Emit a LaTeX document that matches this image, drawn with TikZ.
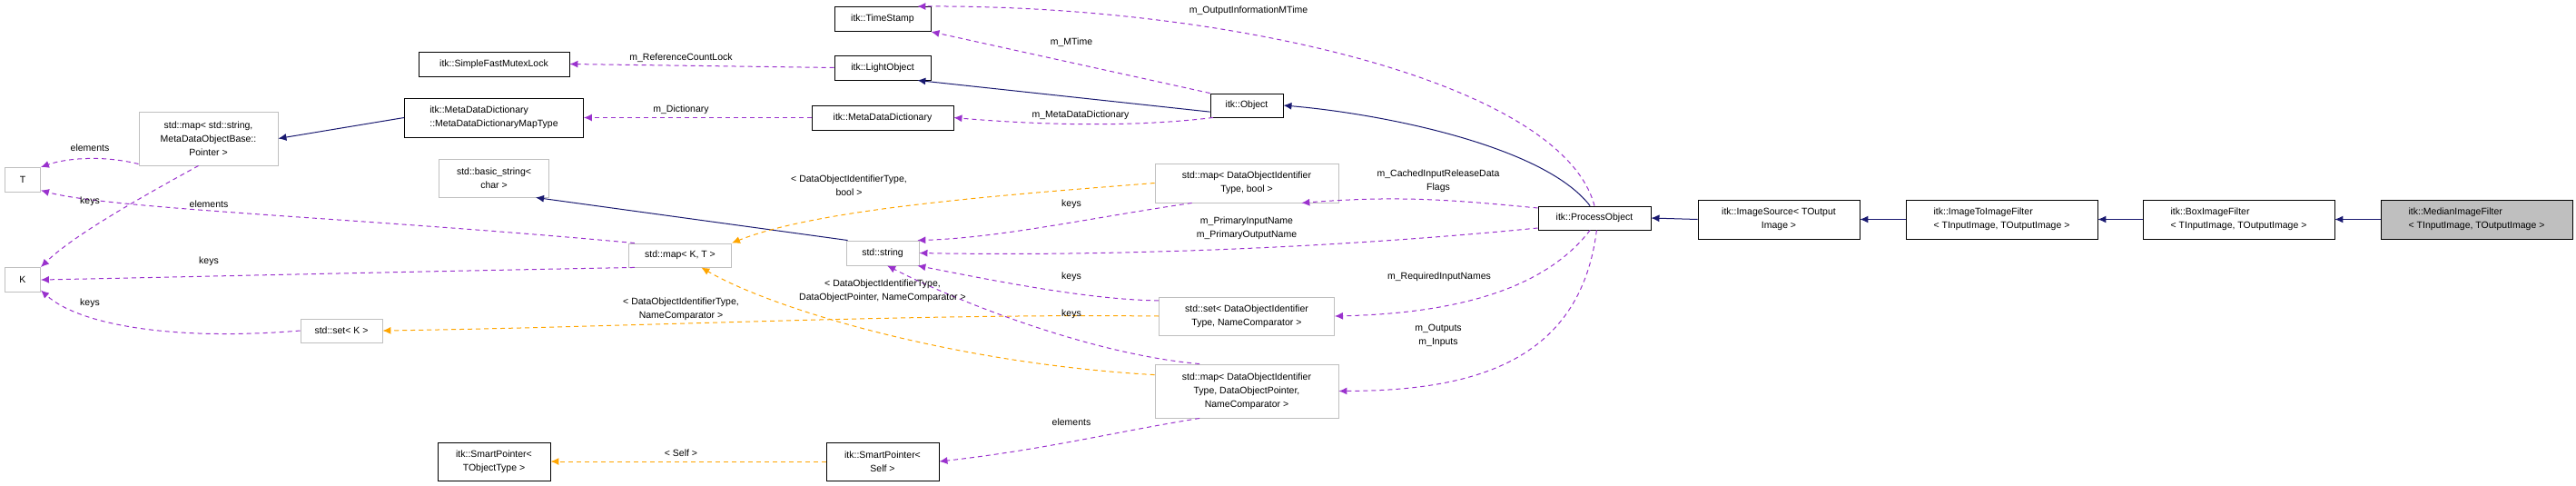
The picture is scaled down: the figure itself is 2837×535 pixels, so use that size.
\documentclass[tikz,border=0pt]{standalone}
\usepackage{fontspec}
\setmainfont{Liberation Sans}
\usetikzlibrary{arrows.meta}
\definecolor{inhcol}{HTML}{191970}
\definecolor{usecol}{HTML}{9A32CD}
\definecolor{tplcol}{HTML}{FFA500}
\definecolor{stdcol}{HTML}{BFBFBF}
\tikzset{
  cls/.style={draw=black,line width=0.9pt,fill=white,inner sep=0pt,align=center,font=\fontsize{10.5}{15}\selectfont},
  ext/.style={cls,draw=stdcol},
  lbl/.style={align=center,inner sep=0pt,font=\fontsize{10.5}{15}\selectfont},
  inh/.style={draw=inhcol,line width=1pt,-{Latex[length=9pt,width=8pt]}},
  use/.style={draw=usecol,line width=1pt,dashed,dash pattern=on 5pt off 4pt,-{Latex[length=9pt,width=8pt]}},
  tpl/.style={draw=tplcol,line width=1pt,dashed,dash pattern=on 5pt off 4pt,-{Latex[length=9pt,width=8pt]}}
}
\begin{document}
\begin{tikzpicture}[x=1pt,y=-1pt]
\useasboundingbox (0,0) rectangle (2837,535);

% classes
\node[cls,minimum width=166,minimum height=27] (mutexLock) at (544,70.5) {itk::SimpleFastMutexLock};
\node[cls,minimum width=197,minimum height=43,align=left] (mapType) at (544,129.5) {itk::MetaDataDictionary\\::MetaDataDictionaryMapType};
\node[ext,minimum width=153,minimum height=59] (stringMap) at (229.5,152.5) {std::map< std::string,\\MetaDataObjectBase::\\Pointer >};
\node[ext,minimum width=39,minimum height=27] (T) at (25,198) {T};
\node[ext,minimum width=39,minimum height=27] (K) at (25,308) {K};
\node[ext,minimum width=121,minimum height=42] (basicString) at (544,196) {std::basic\_string<\\char >};
\node[ext,minimum width=113,minimum height=26] (mapKT) at (749,281) {std::map< K, T >};
\node[ext,minimum width=90,minimum height=26] (setK) at (376,364) {std::set< K >};
\node[cls,minimum width=124,minimum height=42] (spTObj) at (544,508) {itk::SmartPointer<\\TObjectType >};
\node[cls,minimum width=106,minimum height=27] (timeStamp) at (972,21) {itk::TimeStamp};
\node[cls,minimum width=106,minimum height=27] (lightObject) at (972,74.5) {itk::LightObject};
\node[cls,minimum width=156,minimum height=27] (metaDict) at (972,129.5) {itk::MetaDataDictionary};
\node[cls,minimum width=80,minimum height=26] (object) at (1373,116) {itk::Object};
\node[ext,minimum width=202,minimum height=43] (mapBool) at (1373,201.5) {std::map< DataObjectIdentifier\\Type, bool >};
\node[ext,minimum width=80,minimum height=27] (stdString) at (972,278.5) {std::string};
\node[cls,minimum width=124,minimum height=26] (procObject) at (1756,240) {itk::ProcessObject};
\node[ext,minimum width=193,minimum height=42] (setDOI) at (1373,348) {std::set< DataObjectIdentifier\\Type, NameComparator >};
\node[ext,minimum width=202,minimum height=59] (mapDOP) at (1373,430.5) {std::map< DataObjectIdentifier\\Type, DataObjectPointer,\\NameComparator >};
\node[cls,minimum width=124,minimum height=42] (spSelf) at (972,508) {itk::SmartPointer<\\Self >};
\node[cls,minimum width=178,minimum height=43] (imgSource) at (1959,241.5) {itk::ImageSource< TOutput\\Image >};
\node[cls,minimum width=211,minimum height=43,align=left] (imgFilter) at (2204.5,241.5) {itk::ImageToImageFilter\\< TInputImage, TOutputImage >};
\node[cls,minimum width=211,minimum height=43,align=left] (boxFilter) at (2465.5,241.5) {itk::BoxImageFilter\\< TInputImage, TOutputImage >};
\node[cls,fill=stdcol,minimum width=211,minimum height=43,align=left] (medianFilter) at (2727.5,241.5) {itk::MedianImageFilter\\< TInputImage, TOutputImage >};

% inheritance
\draw[inh] (mapType.west) -- (stringMap.east);
\draw[inh] (stdString.160) -- (basicString.-25);
\draw[inh] (object.190) -- (lightObject.-20);
\draw[inh] (procObject.110) .. controls (1700,160) and (1520,125) .. (object.east);
\draw[inh] (imgSource.west) -- (procObject.east);
\draw[inh] (imgFilter.west) -- (imgSource.east);
\draw[inh] (boxFilter.west) -- (imgFilter.east);
\draw[inh] (medianFilter.west) -- (boxFilter.east);

% members
\draw[use] (lightObject.west) -- (mutexLock.east);
\draw[use] (metaDict.west) -- (mapType.east);
\draw[use] (object.north west) -- (timeStamp.south east);
\draw[use] (object.200) .. controls (1250,140) and (1150,138) .. (metaDict.east);
\draw[use] (procObject.north) .. controls (1720,90) and (1350,5) .. (timeStamp.20);
\draw[use] (procObject.170) .. controls (1600,220) and (1540,215) .. (mapBool.-20);
\draw[use] (procObject.190) .. controls (1450,275) and (1200,282) .. (stdString.east);
\draw[use] (procObject.-110) .. controls (1700,320) and (1600,345) .. (setDOI.east);
\draw[use] (procObject.-80) .. controls (1740,400) and (1620,430) .. (mapDOP.east);
\draw[use] (mapBool.200) .. controls (1200,240) and (1100,262) .. (stdString.20);
\draw[use] (setDOI.170) .. controls (1200,330) and (1100,310) .. (stdString.-20);
\draw[use] (mapDOP.150) .. controls (1200,390) and (1050,330) .. (stdString.-70);
\draw[use] (mapDOP.-150) .. controls (1230,475) and (1150,495) .. (spSelf.east);
\draw[use] (mapKT.165) .. controls (400,240) and (120,230) .. (T.-30);
\draw[use] (mapKT.195) .. controls (400,300) and (200,305) .. (K.east);
\draw[use] (stringMap.200) .. controls (110,170) and (70,175) .. (T.north east);
\draw[use] (stringMap.-110) .. controls (150,220) and (80,260) .. (K.north east);
\draw[use] (setK.west) .. controls (200,375) and (90,360) .. (K.-30);

% template arguments
\draw[tpl] (mapBool.west) .. controls (1100,215) and (900,230) .. (mapKT.north east);
\draw[tpl] (mapDOP.170) .. controls (1050,400) and (850,340) .. (mapKT.-30);
\draw[tpl] (setDOI.west) .. controls (1000,345) and (700,360) .. (setK.east);
\draw[tpl] (spSelf.west) -- (spTObj.east);

% labels
\node[lbl] (lRef) at (750,64) {m\_ReferenceCountLock};
\node[lbl] (lDict) at (750,121) {m\_Dictionary};
\node[lbl] (lMTime) at (1180,47) {m\_MTime};
\node[lbl] (lMeta) at (1190,127) {m\_MetaDataDictionary};
\node[lbl] (lOutInfo) at (1375,12) {m\_OutputInformationMTime};
\node[lbl] (lCached) at (1584,199) {m\_CachedInputReleaseData\\Flags};
\node[lbl] (lPrimary) at (1373,251) {m\_PrimaryInputName\\m\_PrimaryOutputName};
\node[lbl] (lReq) at (1585,305) {m\_RequiredInputNames};
\node[lbl] (lOutputs) at (1584,369) {m\_Outputs\\m\_Inputs};
\node[lbl] (lKeysA) at (1180,225) {keys};
\node[lbl] (lKeysB) at (1180,305) {keys};
\node[lbl] (lKeysC) at (1180,346) {keys};
\node[lbl] (lElemA) at (1180,465) {elements};
\node[lbl] (lSelf) at (750,499) {< Self >};
\node[lbl] (lElemB) at (230,225) {elements};
\node[lbl] (lKeysD) at (230,288) {keys};
\node[lbl] (lElemC) at (99,163) {elements};
\node[lbl] (lKeysE) at (99,222) {keys};
\node[lbl] (lKeysF) at (99,334) {keys};
\node[lbl] (lBool) at (935,204) {< DataObjectIdentifierType,\\bool >};
\node[lbl] (lDOP) at (972,320) {< DataObjectIdentifierType,\\DataObjectPointer, NameComparator >};
\node[lbl] (lNC) at (750,340) {< DataObjectIdentifierType,\\NameComparator >};
\end{tikzpicture}
\end{document}
